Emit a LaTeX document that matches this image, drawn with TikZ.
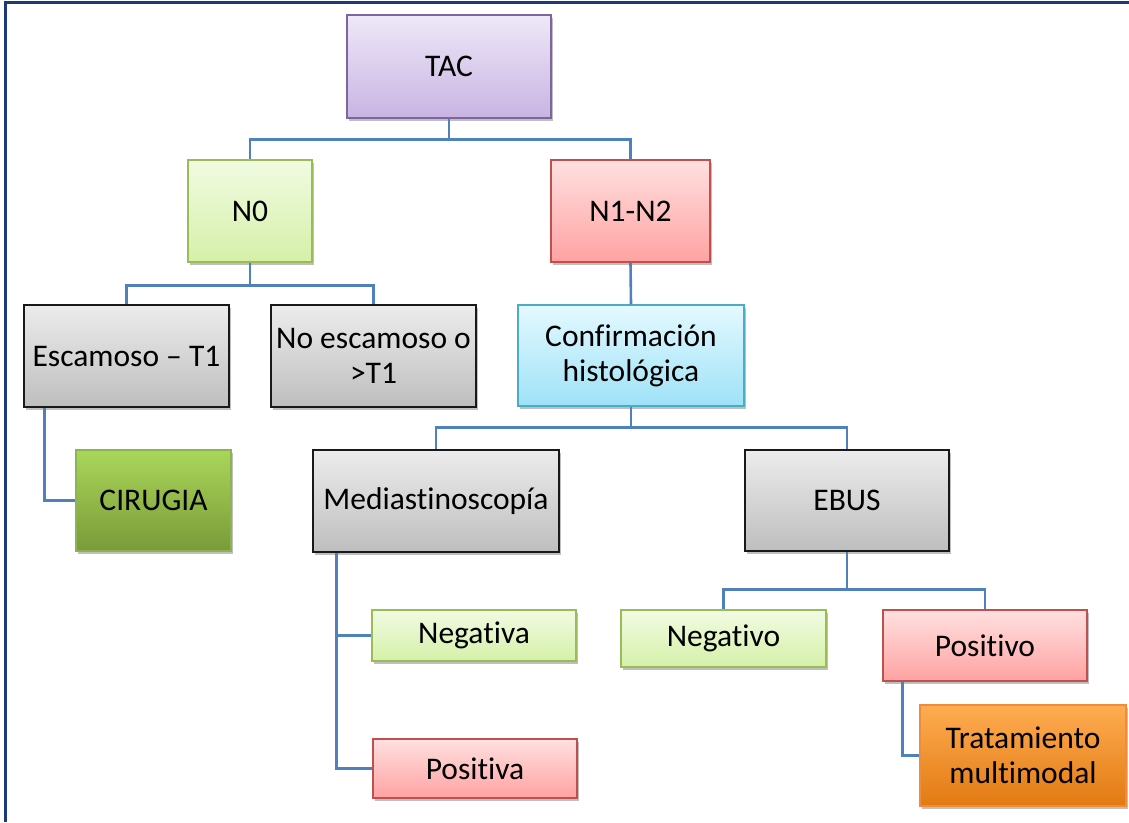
\documentclass[tikz,border=0pt]{standalone}
\usepackage{fontspec}
\setmainfont[Ligatures=NoCommon]{Carlito}
\usetikzlibrary{shadows}
\definecolor{linkblue}{HTML}{4F81BD}
\definecolor{framenavy}{HTML}{1C3A78}
\definecolor{purpleT}{RGB}{238,232,248}\definecolor{purpleB}{RGB}{200,180,226}\definecolor{purpleD}{HTML}{8064A2}
\definecolor{greenT}{RGB}{241,251,226}\definecolor{greenB}{RGB}{213,240,168}\definecolor{greenD}{HTML}{9BBB59}
\definecolor{redT}{RGB}{255,224,224}\definecolor{redB}{RGB}{255,162,162}\definecolor{redD}{HTML}{C0504D}
\definecolor{grayT}{RGB}{236,236,236}\definecolor{grayB}{RGB}{190,190,190}\definecolor{grayD}{RGB}{25,25,25}
\definecolor{cyanT}{RGB}{228,249,255}\definecolor{cyanB}{RGB}{158,226,247}\definecolor{cyanD}{HTML}{4BACC6}
\definecolor{oliveT}{RGB}{170,214,90}\definecolor{oliveB}{RGB}{122,154,56}\definecolor{oliveD}{RGB}{140,180,80}
\definecolor{orangeT}{RGB}{255,172,82}\definecolor{orangeB}{RGB}{226,122,18}\definecolor{orangeD}{RGB}{236,140,60}
\tikzset{
  box/.style={rectangle, inner sep=0pt, line width=1.2pt, align=center,
    font=\fontsize{31.5}{35}\selectfont, text=black,
    drop shadow={shadow xshift=2pt, shadow yshift=-3pt, opacity=0.25, fill=black}},
  purplebox/.style={box, draw=purpleD, top color=purpleT, bottom color=purpleB},
  greenbox/.style={box, draw=greenD, top color=greenT, bottom color=greenB},
  redbox/.style={box, draw=redD, top color=redT, bottom color=redB},
  graybox/.style={box, draw=grayD, top color=grayT, bottom color=grayB},
  cyanbox/.style={box, draw=cyanD, top color=cyanT, bottom color=cyanB},
  olivebox/.style={box, draw=oliveD, top color=oliveT, bottom color=oliveB},
  orangebox/.style={box, draw=orangeD, top color=orangeT, bottom color=orangeB},
  link/.style={draw=linkblue, line width=2.6pt},
  sz/.style 2 args={minimum width=#1pt, minimum height=#2pt}
}
\begin{document}
\begin{tikzpicture}[x=1pt,y=1pt]
\useasboundingbox (0,0) rectangle (1129,-822);
% frame (left and top edges)
\draw[framenavy, line width=2.6pt] (5.5,-822) -- (5.5,-2.5) -- (1129,-2.5);

% nodes
\node[purplebox, sz={204}{103}] (tac) at (449,-66.5) {TAC};
\node[greenbox, sz={124}{102}] (n0) at (250,-211) {N0};
\node[redbox, sz={159}{102}] (n12) at (630.5,-211) {N1-N2};
\node[graybox, sz={205}{102}] (esc) at (126.5,-356) {Escamoso – T1};
\node[graybox, sz={205}{102}] (noesc) at (373.5,-356) {No escamoso o\\>T1};
\node[cyanbox, sz={226}{101}] (conf) at (631,-355.5) {Confirmación\\histológica};
\node[olivebox, sz={155}{101}] (cir) at (153.5,-500.5) {CIRUGIA};
\node[graybox, sz={246}{102}] (med) at (436,-501) {Mediastinoscopía};
\node[graybox, sz={204}{101}] (ebus) at (847,-500.5) {EBUS};
\node[greenbox, sz={204}{51}] (nega) at (474,-635.5) {Negativa};
\node[redbox, sz={204}{59}] (posa) at (475,-768.5) {Positiva};
\node[greenbox, sz={205}{57}] (nego) at (723.5,-638.5) {Negativo};
\node[redbox, sz={204}{71}] (poso) at (985,-645.5) {Positivo};
\node[orangebox, sz={206}{101}] (trat) at (1023,-755.5) {Tratamiento\\multimodal};

% connectors
\path[link] (tac.south) -- ++(0,-21) -| (n0.north);
\path[link] (tac.south) -- ++(0,-21) -| (n12.north);
\path[link] (n0.south) -- ++(0,-23) -| (esc.north);
\path[link] (n0.south) -- ++(0,-23) -| (noesc.north);
\path[link] (n12.south) -- (conf.north);
\path[link] (conf.south) -- ++(0,-21) -| (med.north);
\path[link] (conf.south) -- ++(0,-21) -| (ebus.north);
\path[link] (ebus.south) -- ++(0,-38) -| (nego.north);
\path[link] (ebus.south) -- ++(0,-38) -| (poso.north);
\path[link] (esc.south west) ++(21,0) coordinate (escout) |- (cir.west);
\path[link] (med.south west) ++(24,0) coordinate (medout) |- (nega.west);
\path[link] (medout) |- (posa.west);
\path[link] (poso.south west) ++(20,0) coordinate (posout) |- (trat.west);
\end{tikzpicture}
\end{document}
